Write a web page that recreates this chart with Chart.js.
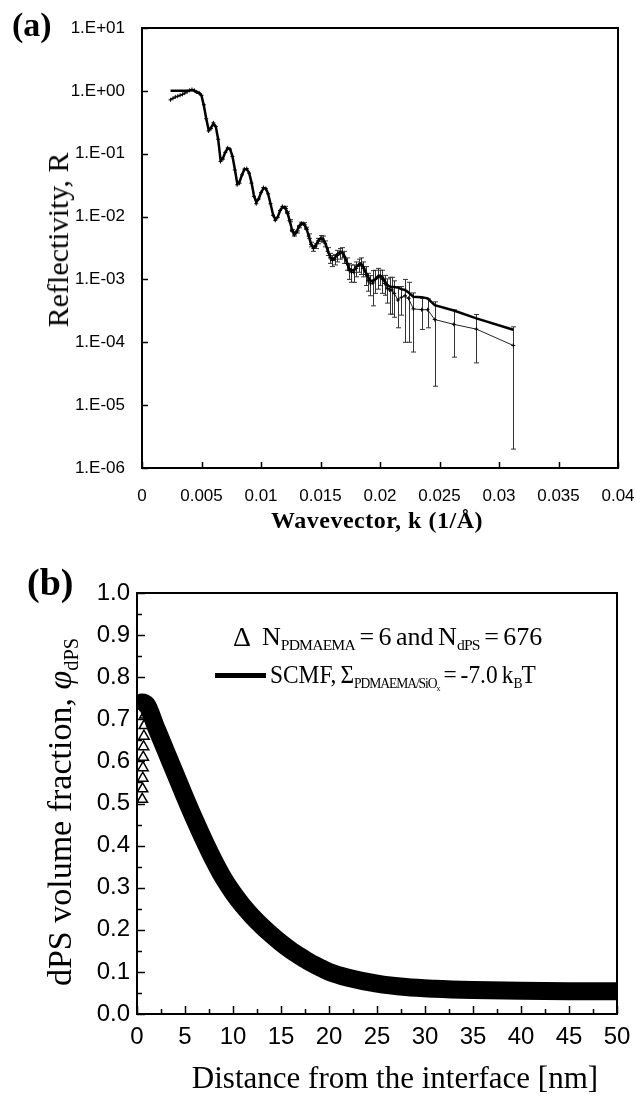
<!DOCTYPE html>
<html>
<head>
<meta charset="utf-8">
<script src="https://cdn.jsdelivr.net/npm/chart.js@4.4.1/dist/chart.umd.min.js"></script>
<style>
  body { margin: 0; background: #fff; }
  #wrap { position: relative; width: 636px; height: 1097px; overflow: hidden; font-family: "Liberation Serif", "Times New Roman", serif; color: #000; }
  canvas { position: absolute; left: 0; }
  .t { position: absolute; white-space: nowrap; line-height: 1; }
  .c { transform: translate(-50%, -50%); }
  .r { transform: translate(-50%, -50%) rotate(-90deg); }
  sub { font-size: 0.6em; vertical-align: -0.35em; line-height: 0; }
  sub sub { font-size: 0.8em; vertical-align: -0.3em; }
  .leg1 { word-spacing: -2px; }
  .leg1 sub { letter-spacing: -0.8px; }
  .leg2 { word-spacing: -2px; transform: scaleX(0.9); transform-origin: left center; }
  .leg2 sub { font-size: 0.58em; letter-spacing: -1.2px; }
</style>
</head>
<body>
<div id="wrap">
  <canvas id="ca" width="636" height="545" style="top:0"></canvas>
  <canvas id="cb" width="636" height="552" style="top:545px"></canvas>

  <div class="t" style="left:12px; top:8px; font-size:34px; font-weight:bold;">(a)</div>
  <div class="t r" style="left:58px; top:240px; font-size:30px;">Reflectivity, R</div>
  <div class="t c" style="left:377px; top:520px; font-size:24px; font-weight:bold; letter-spacing:0.5px;">Wavevector, k (1/Å)</div>

  <div class="t" style="left:27px; top:563px; font-size:38px; font-weight:bold;">(b)</div>
  <div class="t r" style="left:60px; top:812px; font-size:34px;">dPS volume fraction, <i>φ</i><sub>dPS</sub></div>
  <div class="t c" style="left:395px; top:1077px; font-size:31px;">Distance from the interface [nm]</div>

  <div class="t" style="left:233px; top:623px; font-size:28px;">Δ</div>
  <div class="t leg1" style="left:262px; top:624px; font-size:26px;">N<sub>PDMAEMA</sub> = 6 and N<sub>dPS</sub> = 676</div>
  <div style="position:absolute; left:215px; top:673px; width:51px; height:5px; background:#000;"></div>
  <div class="t leg2" style="left:270px; top:662px; font-size:26px;">SCMF, Σ<sub>PDMAEMA/SiO<sub>x</sub></sub> = -7.0 k<sub>B</sub>T</div>
</div>

<script>
// (a) reflectivity: measured data (thin, error bars) and fit (thick)
const kData = [
  0.0024, 0.0026, 0.0028, 0.0030, 0.0032, 0.0034, 0.0036, 0.0038, 0.0040, 0.0042,
  0.0044, 0.0046, 0.0048, 0.0050, 0.0052, 0.0054, 0.0056, 0.0058, 0.0060, 0.0062,
  0.0064, 0.0066, 0.0068, 0.0070, 0.0072, 0.0074, 0.0076, 0.0078, 0.0080, 0.0082,
  0.0084, 0.0086, 0.0088, 0.0090, 0.0092, 0.0094, 0.0096, 0.0098, 0.0100, 0.0102,
  0.0104, 0.0106, 0.0108, 0.0110, 0.0112, 0.0114, 0.0116, 0.0118, 0.0120, 0.0122,
  0.0124, 0.0126, 0.0128, 0.0130, 0.0132, 0.0134, 0.0136, 0.0138, 0.0140, 0.0142,
  0.0144, 0.0146, 0.0148, 0.0150, 0.0152, 0.0154, 0.0156, 0.0158, 0.0160, 0.0162,
  0.0164, 0.0166, 0.0168, 0.0170, 0.0172, 0.0174, 0.0176, 0.0178, 0.0180, 0.0182,
  0.0184, 0.0186, 0.0188, 0.0190, 0.0192, 0.0194, 0.0196, 0.0198, 0.0200, 0.0202,
  0.0204, 0.0206, 0.0208, 0.0210, 0.0212, 0.0215, 0.0218, 0.0221, 0.0224, 0.0228,
  0.0235, 0.0240, 0.0246, 0.0262, 0.0281, 0.0312
];
const dataR = [
  0.72, 0.76, 0.80, 0.82, 0.85, 0.88, 0.92, 0.97, 1.02, 1.05,
  1.02, 0.96, 0.93, 0.85, 0.60, 0.36, 0.23, 0.25, 0.31, 0.27,
  0.17, 0.075, 0.082, 0.105, 0.124, 0.118, 0.090, 0.055, 0.032, 0.034,
  0.046, 0.057, 0.058, 0.049, 0.034, 0.021, 0.016, 0.019, 0.024, 0.029,
  0.028, 0.023, 0.016, 0.0105, 0.0087, 0.0097, 0.0125, 0.0145, 0.0140, 0.0116,
  0.0086, 0.0060, 0.0051, 0.0057, 0.0069, 0.0078, 0.0077, 0.0065, 0.0049, 0.0036,
  0.0031, 0.0034, 0.0041, 0.0045, 0.0044, 0.0037, 0.0028, 0.0022, 0.0020, 0.0021,
  0.0024, 0.0026, 0.0027, 0.0023, 0.0018, 0.0014, 0.0013, 0.0013, 0.0015, 0.0017,
  0.0017, 0.0015, 0.0012, 0.00095, 0.00085, 0.00088, 0.0010, 0.0011, 0.0011, 0.0010,
  0.00086, 0.00072, 0.00068, 0.00068, 0.00060, 0.00047, 0.00052, 0.00055, 0.00050, 0.00034,
  0.00033, 0.00033, 0.00023, 0.000193, 0.000162, 0.000089
];
const fitR = [
  1.00, 1.00, 1.00, 1.00, 1.00, 1.00, 1.00, 1.00, 1.01, 1.03,
  1.00, 0.95, 0.92, 0.84, 0.58, 0.36, 0.24, 0.26, 0.30, 0.27,
  0.17, 0.080, 0.085, 0.105, 0.122, 0.118, 0.092, 0.057, 0.034, 0.036,
  0.046, 0.056, 0.057, 0.050, 0.035, 0.022, 0.017, 0.019, 0.024, 0.028,
  0.028, 0.023, 0.016, 0.011, 0.0090, 0.0098, 0.0124, 0.0142, 0.0140, 0.0118,
  0.0088, 0.0062, 0.0052, 0.0058, 0.0070, 0.0077, 0.0076, 0.0066, 0.0050, 0.0037,
  0.0032, 0.0035, 0.0041, 0.0045, 0.0044, 0.0038, 0.0029, 0.0023, 0.0021, 0.0022,
  0.0025, 0.0027, 0.0027, 0.0024, 0.0019, 0.0015, 0.0014, 0.0014, 0.0016, 0.0017,
  0.0018, 0.0016, 0.0013, 0.0011, 0.00095, 0.00095, 0.0010, 0.0011, 0.00115, 0.0011,
  0.00095, 0.00082, 0.00077, 0.00076, 0.00076, 0.00074, 0.00070, 0.00068, 0.00062, 0.00053,
  0.00052, 0.00050, 0.00039, 0.00032, 0.00024, 0.000158
];
const errR = [
  0, 0, 0, 0, 0, 0, 0, 0, 0, 0,
  0, 0, 0, 0, 0, 0, 0, 0, 0, 0,
  0, 0, 0, 0, 0, 0, 0, 0, 0, 0,
  0, 0, 0, 0, 0, 0, 0, 0, 0, 0,
  0, 0, 0, 0, 0, 0, 0, 0, 0.00056, 0.00046,
  0.00034, 0.00024, 0.0002, 0.00023, 0.00028, 0.00031, 0.00031, 0.00026, 0.0004, 0.0003,
  0.0003, 0.0003, 0.0004, 0.0005, 0.0005, 0.0004, 0.0004, 0.0004, 0.0004, 0.0004,
  0.0005, 0.0005, 0.0005, 0.0005, 0.0004, 0.0004, 0.0004, 0.0004, 0.0004, 0.0004,
  0.0005, 0.0004, 0.0004, 0.0003, 0.0003, 0.0005, 0.0004, 0.0004, 0.0003, 0.0004,
  0.0003, 0.0003, 0.0004, 0.0004, 0.00035, 0.0003, 0.00025, 0.00045, 0.0004, 0.00027,
  0.00017, 0.00016, 0.00021, 0.000135, 0.000115, 0.000087
];
const xTicksA = [0, 0.005, 0.01, 0.015, 0.02, 0.025, 0.03, 0.035, 0.04];
const xLabelsA = ['0', '0.005', '0.01', '0.015', '0.02', '0.025', '0.03', '0.035', '0.04'];
const yTicksA = [1e-6, 1e-5, 1e-4, 1e-3, 1e-2, 1e-1, 1, 10];
const yLabelsA = ['1.E-06', '1.E-05', '1.E-04', '1.E-03', '1.E-02', '1.E-01', '1.E+00', '1.E+01'];

// (b) dPS volume fraction profile
const triDist = [0.55, 0.58, 0.60, 0.62, 0.65, 0.68, 0.72, 0.76, 0.82, 0.90,
  1, 2, 3, 4, 5, 6, 7, 8, 9, 10, 12, 14, 16, 18, 20, 25, 30, 35, 40, 45, 50];
const triPhi = [0.51, 0.535, 0.56, 0.585, 0.61, 0.635, 0.66, 0.685, 0.71, 0.728,
  0.735, 0.68, 0.625, 0.57, 0.515, 0.462, 0.412, 0.365, 0.323, 0.288, 0.232, 0.19, 0.151, 0.122, 0.10, 0.071, 0.06, 0.057, 0.055, 0.054, 0.054];
const scmfDist = [0, 0.5, 1, 2, 3, 4, 5, 6, 7, 8, 9, 10, 11, 12, 13, 14, 15, 16, 17, 18, 19, 20, 22, 25, 28, 31, 35, 40, 45, 50];
const scmfPhi = [0.725, 0.74, 0.735, 0.68, 0.625, 0.57, 0.515, 0.462, 0.412, 0.365, 0.323, 0.288, 0.258, 0.232, 0.209, 0.188, 0.169, 0.152, 0.137, 0.123, 0.111, 0.10, 0.086, 0.072, 0.064, 0.06, 0.057, 0.055, 0.054, 0.054];
const xTicksB = [0, 5, 10, 15, 20, 25, 30, 35, 40, 45, 50];
const xMinorB = [2.5, 7.5, 12.5, 17.5, 22.5, 27.5, 32.5, 37.5, 42.5, 47.5];
const yTicksB = [0, 0.1, 0.2, 0.3, 0.4, 0.5, 0.6, 0.7, 0.8, 0.9, 1.0];
const yMinorB = [0.05, 0.15, 0.25, 0.35, 0.45, 0.55, 0.65, 0.75, 0.85, 0.95];
const yLabelsB = ['0.0', '0.1', '0.2', '0.3', '0.4', '0.5', '0.6', '0.7', '0.8', '0.9', '1.0'];

// box round the plot and inward ticks
const frame = {
  id: 'frame',
  afterDraw(chart, args, o) {
    const { ctx, chartArea: a, scales: { x, y } } = chart;
    ctx.save();
    ctx.strokeStyle = '#000';
    ctx.lineWidth = 1.5;
    const tick = (vals, len, isX) => {
      vals.forEach(v => {
        ctx.beginPath();
        if (isX) {
          const px = Math.round(x.getPixelForValue(v)) + 0.5;
          ctx.moveTo(px, a.bottom);
          ctx.lineTo(px, a.bottom - len);
        } else {
          const py = Math.round(y.getPixelForValue(v)) + 0.5;
          ctx.moveTo(a.left, py);
          ctx.lineTo(a.left + len, py);
        }
        ctx.stroke();
      });
    };
    tick(o.xMajor, o.major, true);
    tick(o.xMinor || [], o.minor, true);
    tick(o.yMajor, o.major, false);
    tick(o.yMinor || [], o.minor, false);
    ctx.lineWidth = 2;
    ctx.strokeRect(a.left, a.top, a.right - a.left, a.bottom - a.top);
    ctx.restore();
  }
};

// vertical error bars for the measured points
const errorBars = {
  id: 'errorBars',
  beforeDatasetsDraw(chart) {
    const { ctx, chartArea: a, scales: { x, y } } = chart;
    ctx.save();
    ctx.beginPath();
    ctx.rect(a.left, a.top, a.right - a.left, a.bottom - a.top);
    ctx.clip();
    ctx.strokeStyle = '#333';
    ctx.lineWidth = 1;
    kData.forEach((k, i) => {
      const e = errR[i];
      if (!e) return;
      const px = Math.round(x.getPixelForValue(k)) + 0.5;
      const hi = y.getPixelForValue(dataR[i] + e);
      const lo = y.getPixelForValue(Math.max(dataR[i] - e, 1e-7));
      ctx.beginPath();
      ctx.moveTo(px, hi); ctx.lineTo(px, lo);
      ctx.moveTo(px - 2.5, hi); ctx.lineTo(px + 2.5, hi);
      ctx.moveTo(px - 2.5, lo); ctx.lineTo(px + 2.5, lo);
      ctx.stroke();
    });
    ctx.restore();
  }
};

const tickFont = size => ({ family: '"Liberation Sans", Arial, sans-serif', size: size });

new Chart(document.getElementById('ca'), {
  type: 'line',
  data: {
    datasets: [
      {
        label: 'fit',
        data: kData.map((k, i) => ({ x: k, y: fitR[i] })),
        borderColor: '#000', borderWidth: 2.5, pointRadius: 0, clip: 0, order: 1
      },
      {
        label: 'data',
        data: kData.map((k, i) => ({ x: k, y: dataR[i] })),
        borderColor: '#222', borderWidth: 1, pointStyle: 'cross', pointRadius: 2,
        pointBorderWidth: 1, pointBorderColor: '#000', clip: 0, order: 2
      }
    ]
  },
  options: {
    responsive: false,
    animation: false,
    events: [],
    layout: { padding: { top: 28, right: 18, left: 0, bottom: 0 } },
    plugins: {
      legend: { display: false },
      tooltip: { enabled: false },
      frame: { xMajor: xTicksA, yMajor: yTicksA, major: 6, minor: 0 }
    },
    scales: {
      x: {
        type: 'linear', min: 0, max: 0.04,
        grid: { display: false, drawTicks: false },
        border: { display: false },
        afterBuildTicks: s => { s.ticks = xTicksA.map(v => ({ value: v })); },
        afterFit: s => { s.height = 77; s.paddingLeft = 0; s.paddingRight = 0; },
        ticks: {
          autoSkip: false, maxRotation: 0, padding: 18, color: '#000', font: tickFont(17),
          callback: (v, i) => xLabelsA[i]
        }
      },
      y: {
        type: 'logarithmic', min: 1e-6, max: 10,
        grid: { display: false, drawTicks: false },
        border: { display: false },
        afterBuildTicks: s => { s.ticks = yTicksA.map(v => ({ value: v })); },
        afterFit: s => { s.width = 142; s.paddingTop = 0; s.paddingBottom = 0; },
        ticks: {
          autoSkip: false, padding: 17, color: '#000', font: tickFont(17),
          callback: (v, i) => yLabelsA[i]
        }
      }
    }
  },
  plugins: [errorBars, frame]
});

new Chart(document.getElementById('cb'), {
  type: 'line',
  data: {
    datasets: [
      {
        label: 'SCMF',
        data: scmfDist.map((d, i) => ({ x: d, y: scmfPhi[i] })),
        borderColor: '#000', borderWidth: 18, pointRadius: 0,
        cubicInterpolationMode: 'monotone', clip: 0, order: 2
      },
      {
        label: 'N = 6, 676',
        data: triDist.map((d, i) => ({ x: d, y: triPhi[i] })),
        showLine: false, pointStyle: 'triangle', pointRadius: 6,
        pointBorderWidth: 1.5, pointBorderColor: '#000', pointBackgroundColor: 'rgba(0,0,0,0)',
        clip: 0, order: 1
      }
    ]
  },
  options: {
    responsive: false,
    animation: false,
    events: [],
    layout: { padding: { top: 48, right: 19, left: 0, bottom: 0 } },
    plugins: {
      legend: { display: false },
      tooltip: { enabled: false },
      frame: { xMajor: xTicksB, xMinor: xMinorB, yMajor: yTicksB, yMinor: yMinorB, major: 8, minor: 5 }
    },
    scales: {
      x: {
        type: 'linear', min: 0, max: 50,
        grid: { display: false, drawTicks: false },
        border: { display: false },
        afterBuildTicks: s => { s.ticks = xTicksB.map(v => ({ value: v })); },
        afterFit: s => { s.height = 83; s.paddingLeft = 0; s.paddingRight = 0; },
        ticks: {
          autoSkip: false, maxRotation: 0, padding: 9, color: '#000', font: tickFont(24),
          callback: v => String(v)
        }
      },
      y: {
        type: 'linear', min: 0, max: 1,
        grid: { display: false, drawTicks: false },
        border: { display: false },
        afterBuildTicks: s => { s.ticks = yTicksB.map(v => ({ value: v })); },
        afterFit: s => { s.width = 137; s.paddingTop = 0; s.paddingBottom = 0; },
        ticks: {
          autoSkip: false, padding: 7, color: '#000', font: tickFont(24),
          callback: (v, i) => yLabelsB[i]
        }
      }
    }
  },
  plugins: [frame]
});
</script>
</body>
</html>
